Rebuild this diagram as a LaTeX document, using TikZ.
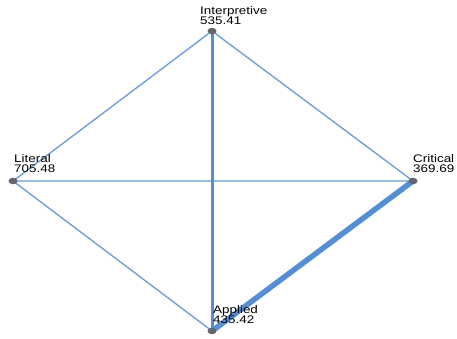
\documentclass[tikz,border=0pt]{standalone}
\usepackage{fontspec}
\setmainfont{Liberation Sans}
\usepackage{graphicx}
\usetikzlibrary{shapes.geometric}
\definecolor{edgeblue}{RGB}{110,160,220}
\definecolor{edgelight}{RGB}{150,190,230}
\definecolor{edgedark}{RGB}{85,142,210}
\definecolor{dotgray}{RGB}{100,100,108}
\begin{document}
\begin{tikzpicture}[x=1pt,y=-1pt,
  dot/.style={ellipse,fill=dotgray,minimum width=9pt,minimum height=6.5pt,inner sep=0pt},
  lbl/.style={anchor=base west,inner sep=0pt,font=\fontsize{11}{11}\selectfont},
  thinedge/.style={draw=edgeblue,line width=1.4pt},
  lightedge/.style={draw=edgelight,line width=1.4pt},
  midedge/.style={draw=edgedark,line width=3pt},
  thickedge/.style={draw=edgedark,line width=5.5pt,line cap=round}]
\useasboundingbox (0,0) rectangle (457,338);
\path (212,31) coordinate (I) (13,181) coordinate (L) (413,181) coordinate (C) (212,331) coordinate (A);
\draw[thinedge] (I) -- (L);
\draw[thinedge] (I) -- (C);
\draw[lightedge] (L) -- (C);
\draw[thinedge] (L) -- (A);
\draw[midedge] (I) -- (A);
\draw[thickedge] (C) -- (A);
\node[dot] (nI) at (I) {};
\node[dot] (nL) at (L) {};
\node[dot] (nC) at (C) {};
\node[dot] (nA) at (A) {};
\node[lbl] (tI1) at (200,14.5) {\scalebox{1.22}[1]{Interpretive}};
\node[lbl] (tI2) at (200,24.5) {\scalebox{1.22}[1]{535.41}};
\node[lbl] (tL1) at (14,162.5) {\scalebox{1.22}[1]{Literal}};
\node[lbl] (tL2) at (14,172.5) {\scalebox{1.22}[1]{705.48}};
\node[lbl] (tC1) at (413,162.5) {\scalebox{1.22}[1]{Critical}};
\node[lbl] (tC2) at (413,172.5) {\scalebox{1.22}[1]{369.69}};
\node[lbl] (tA1) at (213,313) {\scalebox{1.22}[1]{Applied}};
\node[lbl] (tA2) at (213,323) {\scalebox{1.22}[1]{435.42}};
\end{tikzpicture}
\end{document}
